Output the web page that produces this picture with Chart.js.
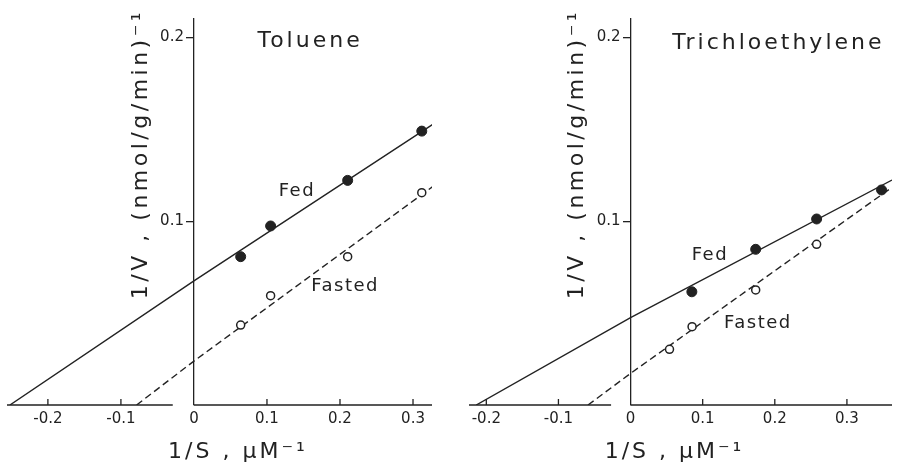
<!DOCTYPE html>
<html>
<head>
<meta charset="utf-8">
<script src="https://cdn.jsdelivr.net/npm/chart.js@4.4.1/dist/chart.umd.min.js"></script>
<style>
  body { margin: 0; background: #fff; }
  .panel { position: absolute; top: 0; width: 449px; height: 472px; }
</style>
</head>
<body>
<div class="panel" style="left:0"><canvas id="toluene" width="449" height="472"></canvas></div>
<div class="panel" style="left:449px"><canvas id="tce" width="449" height="472"></canvas></div>
<script>
// Toluene: measured points and drawn regression lines (1/S, 1/V)
const tolFedS = [0.064, 0.105, 0.2105, 0.312];
const tolFedV = [0.0807, 0.0974, 0.1222, 0.149];
const tolFastS = [0.064, 0.105, 0.2105, 0.312];
const tolFastV = [0.0435, 0.0595, 0.0807, 0.1155];
const tolFedLineS = [-0.252, 0, 0.327];
const tolFedLineV = [0, 0.0675, 0.1527];
const tolFastLineS = [-0.0785, 0, 0.327];
const tolFastLineV = [0, 0.0239, 0.1188];

// Trichloethylene
const tceFedS = [0.085, 0.1735, 0.258, 0.348];
const tceFedV = [0.0616, 0.0847, 0.1012, 0.117];
const tceFastS = [0.054, 0.0853, 0.1735, 0.258];
const tceFastV = [0.0303, 0.0426, 0.0626, 0.0874];
const tceFedLineS = [-0.214, 0, 0.3625];
const tceFedLineV = [0, 0.0475, 0.1224];
const tceFastLineS = [-0.059, 0, 0.3625];
const tceFastLineV = [0, 0.0172, 0.1184];

const xTicks = [-0.2, -0.1, 0, 0.1, 0.2, 0.3];
const yTicks = [0.1, 0.2];
const xTitle = '1/S , μM⁻¹';
const yTitle = '1/V , (nmol/g/min)⁻¹';

const ink = '#222';
const family = 'DejaVu Sans';

function pts(xs, ys) {
    return xs.map((x, i) => ({ x: x, y: ys[i] }));
}

// axis with a gap left of the origin, inward ticks, y tick labels, titles and labels
const figurePlugin = {
    id: 'figure',
    afterDraw(chart, args, o) {
        const ctx = chart.ctx,
            xs = chart.scales.x,
            ys = chart.scales.y;
        const x0 = xs.getPixelForValue(0),
            yb = ys.getPixelForValue(0);
        ctx.save();
        ctx.strokeStyle = ink;
        ctx.lineWidth = 1.3;
        ctx.beginPath();
        ctx.moveTo(xs.left, yb);
        ctx.lineTo(xs.getPixelForValue(o.gapAt), yb);
        ctx.moveTo(x0, yb);
        ctx.lineTo(xs.right, yb);
        xTicks.forEach(v => {
            if (v === 0) return;
            const px = xs.getPixelForValue(v);
            ctx.moveTo(px, yb);
            ctx.lineTo(px, yb - 6);
        });
        ctx.stroke();

        ctx.fillStyle = ink;
        ctx.textBaseline = 'middle';

        // y tick labels sit left of the tick marks on the centred axis
        ctx.textAlign = 'right';
        ctx.font = '15px ' + family;
        ys.ticks.forEach(t => {
            ctx.fillText(String(t.value), x0 - 10, ys.getPixelForValue(t.value));
        });

        ctx.textAlign = 'center';
        o.labels.forEach(l => {
            ctx.font = l.size + 'px ' + family;
            ctx.letterSpacing = l.sp + 'px';
            ctx.fillText(l.text, xs.getPixelForValue(l.x), ys.getPixelForValue(l.y));
        });

        ctx.font = '22px ' + family;
        ctx.letterSpacing = '3px';
        ctx.fillText(xTitle, x0 + 44, 452);

        ctx.translate(x0 - 53, 154);
        ctx.rotate(-Math.PI / 2);
        ctx.letterSpacing = '3.5px';
        ctx.fillText(yTitle, 0, 0);
        ctx.restore();
    }
};

function makeChart(id, d, cfg) {
    return new Chart(document.getElementById(id), {
        type: 'scatter',
        data: {
            datasets: [{
                data: pts(d.fastS, d.fastV),
                pointRadius: 4,
                pointBorderWidth: 1.5,
                backgroundColor: '#fff',
                borderColor: ink
            }, {
                data: pts(d.fedS, d.fedV),
                pointRadius: 5,
                backgroundColor: ink,
                borderColor: ink
            }, {
                data: pts(d.fedLineS, d.fedLineV),
                showLine: true,
                borderColor: ink,
                borderWidth: 1.4,
                pointRadius: 0
            }, {
                data: pts(d.fastLineS, d.fastLineV),
                showLine: true,
                borderColor: ink,
                borderWidth: 1.4,
                borderDash: [7, 4],
                pointRadius: 0
            }]
        },
        options: {
            responsive: false,
            animation: false,
            devicePixelRatio: 1,
            layout: { padding: { left: cfg.padL, right: cfg.padR, top: 19, bottom: 0 } },
            plugins: {
                legend: { display: false },
                tooltip: { enabled: false },
                figure: { gapAt: cfg.gapAt, labels: cfg.labels }
            },
            scales: {
                x: {
                    type: 'linear',
                    min: cfg.xMin,
                    max: cfg.xMax,
                    position: 'bottom',
                    afterBuildTicks: s => { s.ticks = xTicks.map(v => ({ value: v })); },
                    afterFit: s => { s.height = 67; },
                    grid: { display: false, drawTicks: false },
                    border: { display: false },
                    ticks: {
                        padding: 5,
                        color: ink,
                        font: { family: family, size: 15 },
                        autoSkip: false,
                        maxRotation: 0,
                        callback: v => String(v)
                    }
                },
                y: {
                    type: 'linear',
                    min: 0,
                    max: 0.21,
                    position: { x: 0 },
                    afterBuildTicks: s => { s.ticks = yTicks.map(v => ({ value: v })); },
                    grid: { drawOnChartArea: false, drawTicks: true, tickLength: 7, color: ink, lineWidth: 1.3 },
                    border: { display: true, color: ink, width: 1.3 },
                    ticks: { display: false }
                }
            }
        },
        plugins: [figurePlugin]
    });
}

makeChart('toluene', {
    fedS: tolFedS, fedV: tolFedV, fastS: tolFastS, fastV: tolFastV,
    fedLineS: tolFedLineS, fedLineV: tolFedLineV, fastLineS: tolFastLineS, fastLineV: tolFastLineV
}, {
    padL: 7, padR: 17, xMin: -0.256, xMax: 0.326, gapAt: -0.029,
    labels: [
        { text: 'Toluene', x: 0.159, y: 0.1977, size: 22, sp: 3 },
        { text: 'Fed', x: 0.141, y: 0.116, size: 18, sp: 1.5 },
        { text: 'Fasted', x: 0.207, y: 0.0644, size: 18, sp: 1.5 }
    ]
});

makeChart('tce', {
    fedS: tceFedS, fedV: tceFedV, fastS: tceFastS, fastV: tceFastV,
    fedLineS: tceFedLineS, fedLineV: tceFedLineV, fastLineS: tceFastLineS, fastLineV: tceFastLineV
}, {
    padL: 20, padR: 0, xMin: -0.224, xMax: 0.3625, gapAt: -0.027,
    labels: [
        { text: 'Trichloethylene', x: 0.205, y: 0.197, size: 22, sp: 3 },
        { text: 'Fed', x: 0.110, y: 0.0816, size: 18, sp: 1.5 },
        { text: 'Fasted', x: 0.1765, y: 0.0446, size: 18, sp: 1.5 }
    ]
});
</script>
</body>
</html>
